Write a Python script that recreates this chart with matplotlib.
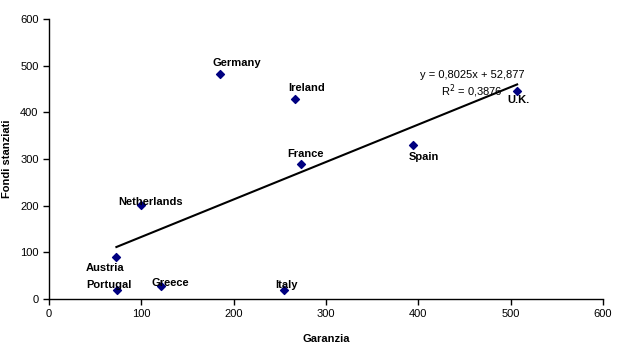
import numpy as np
import matplotlib
matplotlib.use('Agg')
import matplotlib.pyplot as plt

# data
countries = ['Germany', 'Ireland', 'France', 'Spain', 'U.K.', 'Netherlands',
             'Austria', 'Portugal', 'Greece', 'Italy']
garanzia = [185, 266, 273, 394, 507, 100, 73, 74, 121, 254]
fondi = [482, 429, 289, 330, 446, 201, 90, 19, 28, 19]

# linear trend as reported in the chart
slope = 0.8025
intercept = 52.877
r2 = 0.3876

# label offsets in points (dx, dy, ha, va)
offsets = {
    'Germany': (12, 4, 'center', 'bottom'),
    'Ireland': (9, 4, 'center', 'bottom'),
    'France': (3, 4, 'center', 'bottom'),
    'Spain': (8, -5, 'center', 'top'),
    'U.K.': (1, -3, 'center', 'top'),
    'Netherlands': (7, 2, 'center', 'center'),
    'Austria': (-8, -4, 'center', 'top'),
    'Portugal': (-6, 4, 'center', 'center'),
    'Greece': (7, 2, 'center', 'center'),
    'Italy': (2, 4, 'center', 'center'),
}

plt.rcParams['font.family'] = ['Liberation Sans', 'DejaVu Sans']

fig = plt.figure(figsize=(6.17, 3.51), dpi=100)
ax = fig.add_axes([0.0794, 0.148, 0.8979, 0.798])

ax.scatter(garanzia, fondi, marker='D', s=16, color='#000080', zorder=3)

xs = np.array([min(garanzia), max(garanzia)])
ax.plot(xs, slope * xs + intercept, color='black', lw=1.5, zorder=2)

for name, x, y in zip(countries, garanzia, fondi):
    dx, dy, ha, va = offsets[name]
    ax.annotate(name, (x, y), xytext=(dx, dy), textcoords='offset points',
                ha=ha, va=va, fontsize=8, fontweight='bold')

ax.text(458, 479, 'y = 0,%sx + 52,877' % str(slope)[2:], ha='center',
        va='center', fontsize=8)
ax.text(458, 446, 'R$^{2}$ = 0,%s' % str(r2)[2:], ha='center', va='center',
        fontsize=8)

ax.set_xlim(0, 600)
ax.set_ylim(0, 600)
ax.set_xticks(range(0, 601, 100))
ax.set_yticks(range(0, 601, 100))
ax.tick_params(labelsize=8, length=4, width=1, direction='out')
for s in ['top', 'right']:
    ax.spines[s].set_visible(False)
for s in ['left', 'bottom']:
    ax.spines[s].set_linewidth(1)

ax.set_xlabel('Garanzia', fontsize=8, fontweight='bold')
ax.set_ylabel('Fondi stanziati', fontsize=8, fontweight='bold')
ax.xaxis.set_label_coords(0.5, -0.125)
ax.yaxis.set_label_coords(-0.067, 0.5)

fig.savefig('out.png', dpi=100)
